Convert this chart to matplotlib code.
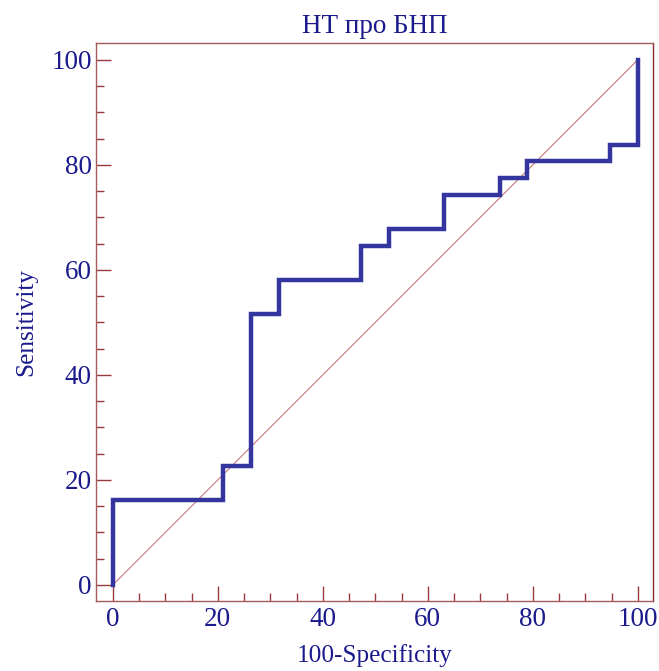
import matplotlib
matplotlib.use("Agg")
import matplotlib.pyplot as plt
from matplotlib.ticker import MultipleLocator

plt.rcParams["font.family"] = ["Liberation Serif", "DejaVu Serif"]

# ROC step curve: 100-Specificity (x) vs Sensitivity (y), in percent
fpr = [0, 0, 21.05, 21.05, 26.32, 26.32, 31.58, 31.58, 47.37, 47.37,
       52.63, 52.63, 63.16, 63.16, 73.68, 73.68, 78.95, 78.95, 94.74, 94.74,
       100, 100]
tpr = [0, 16.13, 16.13, 22.58, 22.58, 51.61, 51.61, 58.06, 58.06, 64.52,
       64.52, 67.74, 67.74, 74.19, 74.19, 77.42, 77.42, 80.65, 80.65, 83.87,
       83.87, 100]
ref_line = [0, 100]

title = "НТ про БНП"
xlabel = "100-Specificity"
ylabel = "Sensitivity"

text_color = "#1a1a8c"
curve_color = "#35359f"
spine_color = "#a65a5a"
tick_color = "#9a3a3a"
diag_color = "#c87878"
fs = 19.5
label_fs = 18.2

fig = plt.figure(figsize=(6.59, 6.71), dpi=100)
ax = fig.add_axes([96 / 659, 70 / 671, (653 - 96) / 659, (601 - 43) / 671])

ax.plot(ref_line, ref_line, color=diag_color, lw=0.8, zorder=2)
ax.plot(fpr, tpr, color=curve_color, lw=3.2, solid_joinstyle="miter", zorder=3)

ax.set_xlim(-3.2, 102.9)
ax.set_ylim(-3.05, 103.2)

ax.xaxis.set_major_locator(MultipleLocator(20))
ax.xaxis.set_minor_locator(MultipleLocator(5))
ax.yaxis.set_major_locator(MultipleLocator(20))
ax.yaxis.set_minor_locator(MultipleLocator(5))

for side in ["left", "right", "top", "bottom"]:
    ax.spines[side].set_color(spine_color)
    ax.spines[side].set_linewidth(1.0)
ax.spines["right"].set_color("#8a2a2a")

ax.tick_params(which="major", direction="in", length=11, width=1.0,
               color=tick_color, labelcolor=text_color, labelsize=fs,
               top=False, right=False)
ax.tick_params(axis="x", which="major", pad=4)
ax.tick_params(axis="y", which="major", pad=3)
ax.tick_params(which="minor", direction="in", length=6, width=1.0,
               color=tick_color, top=False, right=False)

ax.set_title(title, color=text_color, fontsize=fs, pad=7)
ax.set_xlabel(xlabel, color=text_color, fontsize=label_fs, labelpad=9)
ax.set_ylabel(ylabel, color=text_color, fontsize=label_fs, labelpad=10)

fig.savefig("out.png", dpi=100)
